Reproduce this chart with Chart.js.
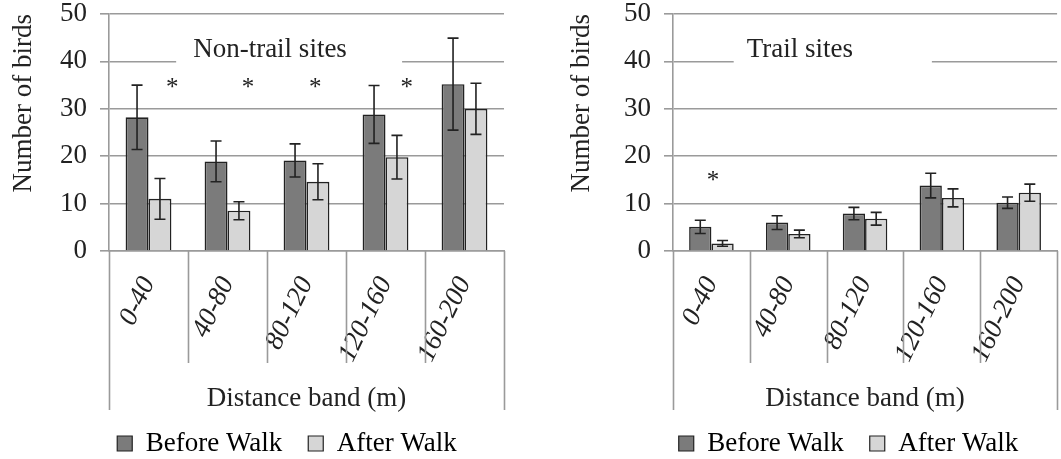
<!DOCTYPE html>
<html>
<head>
<meta charset="utf-8">
<script src="https://cdn.jsdelivr.net/npm/chart.js@4/dist/chart.umd.min.js"></script>
<style>
  body { margin: 0; background: #fff; }
  .panel { position: absolute; top: 0; height: 459px; }
</style>
</head>
<body>
<div class="panel" style="left:0;width:530px"><canvas id="nonTrail"></canvas></div>
<div class="panel" style="left:530px;width:531px"><canvas id="trail"></canvas></div>
<script>
var bands = ['0-40', '40-80', '80-120', '120-160', '160-200'];
var yTicks = [0, 10, 20, 30, 40, 50];

var nonTrailBefore = [28.2, 18.9, 19.1, 28.8, 35.2];
var nonTrailBeforeErr = [6.8, 4.3, 3.5, 6.1, 9.7];
var nonTrailAfter = [11.0, 8.5, 14.6, 19.8, 30.0];
var nonTrailAfterErr = [4.3, 1.9, 3.8, 4.6, 5.4];

var trailBefore = [5.1, 6.0, 7.9, 13.8, 10.2];
var trailBeforeErr = [1.4, 1.45, 1.3, 2.6, 1.2];
var trailAfter = [1.6, 3.6, 6.8, 11.2, 12.3];
var trailAfterErr = [0.6, 0.8, 1.35, 1.9, 1.8];

// asterisks: [category position, value]
var nonTrailStars = [[0.30, 35], [1.26, 35], [2.11, 35], [3.27, 35]];
var trailStars = [[0.02, 15.4]];

var FONT = '"Liberation Serif", "Times New Roman", serif';
var INK = '#222';

var extras = {
  id: 'extras',
  afterLayout: function (chart, args, opts) {
    // nudge the legend to sit under the plot like the original
    chart.legend.left += opts.legendShift;
    chart.legend.right += opts.legendShift;
  },
  afterDatasetsDraw: function (chart, args, opts) {
    var ctx = chart.ctx;
    var y = chart.scales.y;
    ctx.save();
    ctx.strokeStyle = INK;
    ctx.lineWidth = 1.6;
    chart.data.datasets.forEach(function (ds, di) {
      var meta = chart.getDatasetMeta(di);
      meta.data.forEach(function (bar, i) {
        var v = ds.data[i], e = ds.err[i];
        var y1 = y.getPixelForValue(v + e), y2 = y.getPixelForValue(v - e);
        ctx.beginPath();
        ctx.moveTo(bar.x, y1); ctx.lineTo(bar.x, y2);
        ctx.moveTo(bar.x - 5.5, y1); ctx.lineTo(bar.x + 5.5, y1);
        ctx.moveTo(bar.x - 5.5, y2); ctx.lineTo(bar.x + 5.5, y2);
        ctx.stroke();
      });
    });
    ctx.restore();
  },
  afterDraw: function (chart, args, opts) {
    var ctx = chart.ctx;
    var x = chart.scales.x, y = chart.scales.y;
    var area = chart.chartArea;
    ctx.save();
    // dividers below the axis
    ctx.strokeStyle = '#9a9a9a';
    ctx.lineWidth = 1.6;
    ctx.beginPath();
    for (var i = 0; i <= bands.length; i++) {
      var px = Math.round(x.getPixelForValue(i - 0.5)) + 0.5;
      var end = (i === 0 || i === bands.length) ? area.bottom + 159 : area.bottom + 112;
      ctx.moveTo(px, area.bottom); ctx.lineTo(px, end);
    }
    ctx.stroke();

    // title box over the 40 gridline
    var bx1 = x.getPixelForValue(opts.box[0]), bx2 = x.getPixelForValue(opts.box[1]);
    ctx.fillStyle = '#fff';
    ctx.fillRect(bx1, y.getPixelForValue(46), bx2 - bx1, y.getPixelForValue(38) - y.getPixelForValue(46));
    ctx.fillStyle = INK;
    ctx.font = '27px ' + FONT;
    ctx.textAlign = 'left';
    ctx.textBaseline = 'middle';
    ctx.fillText(opts.title, bx1 + opts.inset, y.getPixelForValue(42.5));

    // significance asterisks
    ctx.font = '25px ' + FONT;
    ctx.textAlign = 'center';
    opts.stars.forEach(function (s) {
      ctx.fillText('*', x.getPixelForValue(s[0]), y.getPixelForValue(s[1]) + 3);
    });
    ctx.restore();
  }
};

function makeChart(id, before, beforeErr, after, afterErr, title, box, inset, stars, padLeft, padRight, yWidth, legendShift) {
  return new Chart(document.getElementById(id), {
    type: 'bar',
    data: {
      labels: bands,
      datasets: [
        {
          label: 'Before Walk',
          data: before,
          err: beforeErr,
          backgroundColor: '#7b7b7b',
          borderColor: INK,
          borderWidth: 1.6
        }, {
          label: 'After Walk',
          data: after,
          err: afterErr,
          backgroundColor: '#d6d6d6',
          borderColor: INK,
          borderWidth: 1.6
        }
      ]
    },
    plugins: [extras],
    options: {
      responsive: true,
      maintainAspectRatio: false,
      animation: false,
      layout: { padding: { top: 0, left: padLeft, right: padRight, bottom: -8 } },
      datasets: { bar: { categoryPercentage: 0.58, barPercentage: 1.0 } },
      scales: {
        x: {
          grid: { display: false },
          border: { color: '#9a9a9a', width: 1.6 },
          ticks: {
            color: INK,
            font: { family: FONT, size: 27, style: 'italic' },
            minRotation: 64,
            maxRotation: 64,
            padding: 13,
            autoSkip: false
          },
          title: {
            display: true,
            text: 'Distance band (m)',
            color: INK,
            font: { family: FONT, size: 27 },
            padding: { top: 0, bottom: -11 }
          },
          afterFit: function (s) { s.height = 153; }
        },
        y: {
          min: 0,
          max: 50,
          afterBuildTicks: function (s) { s.ticks = yTicks.map(function (v) { return { value: v }; }); },
          grid: { color: '#9a9a9a', lineWidth: 1.6, tickLength: 9 },
          border: { color: '#9a9a9a', width: 1.6 },
          ticks: { color: INK, font: { family: FONT, size: 27 }, padding: 13 },
          title: {
            display: true,
            text: 'Number of birds',
            align: 'end',
            color: INK,
            font: { family: FONT, size: 27 },
            padding: { top: 0, bottom: 0 }
          },
          afterFit: function (s) { s.width = yWidth; s.paddingTop = 14; }
        }
      },
      plugins: {
        legend: {
          position: 'bottom',
          labels: {
            color: INK,
            font: { family: FONT, size: 27 },
            boxWidth: 15,
            boxHeight: 15,
            padding: 26,
            generateLabels: function (chart) {
              return chart.data.datasets.map(function (ds, i) {
                return {
                  text: ds.label,
                  fillStyle: ds.backgroundColor,
                  strokeStyle: INK,
                  lineWidth: 1.2,
                  datasetIndex: i
                };
              });
            }
          }
        },
        tooltip: { enabled: false },
        extras: { title: title, box: box, inset: inset, stars: stars, legendShift: legendShift }
      }
    }
  });
}

makeChart('nonTrail', nonTrailBefore, nonTrailBeforeErr, nonTrailAfter, nonTrailAfterErr,
  'Non-trail sites', [0.35, 3.21], 17, nonTrailStars, 8, 26, 101, 31);
makeChart('trail', trailBefore, trailBeforeErr, trailAfter, trailAfterErr,
  'Trail sites', [0.29, 2.87], 13, trailStars, 36, 2, 107, 36);
</script>
</body>
</html>
